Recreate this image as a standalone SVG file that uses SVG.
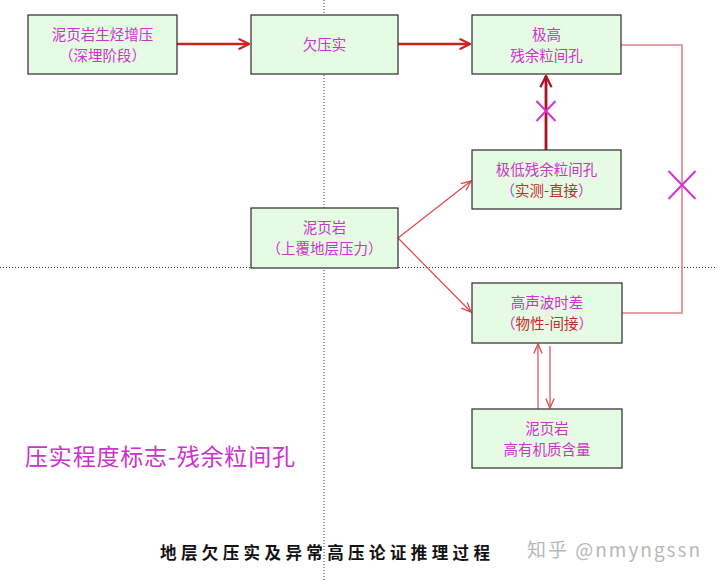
<svg xmlns="http://www.w3.org/2000/svg" width="717" height="581" viewBox="0 0 717 581">
<style>
.box rect{fill:#e6fbe3;stroke:#2a2a2a;stroke-width:1.2}
.t{font-family:"Noto Sans CJK SC","Noto Sans",sans-serif;font-size:14.5px;fill:#cc33cc;text-anchor:middle}
.r{fill:#c42a30}
.thin{stroke:#e04848;stroke-width:1.2;fill:none}
.thick{stroke:#cc2222;stroke-width:2.6;fill:none}
.xm{stroke:#d633d6;stroke-width:2;fill:none}
.dot{stroke:#333;stroke-width:1;stroke-dasharray:1 2;fill:none}
</style>
<defs>
<marker id="aThick" viewBox="0 0 10 10" refX="9" refY="5" markerWidth="5" markerHeight="5" orient="auto" markerUnits="strokeWidth">
<path d="M1,1 L9,5 L1,9" fill="none" stroke="#cc2222" stroke-width="1.6"/>
</marker>
<marker id="aDark" viewBox="0 0 10 10" refX="9" refY="5" markerWidth="5" markerHeight="5" orient="auto" markerUnits="strokeWidth">
<path d="M1,1 L9,5 L1,9" fill="none" stroke="#a81424" stroke-width="1.6"/>
</marker>
<marker id="aThin" viewBox="0 0 10 10" refX="9" refY="5" markerWidth="10" markerHeight="10" orient="auto" markerUnits="strokeWidth">
<path d="M1,1.5 L9,5 L1,8.5" fill="none" stroke="#e04848" stroke-width="1.1"/>
</marker>
</defs>
<rect width="717" height="581" fill="#ffffff"/>
<g id="guides">
<line class="dot" x1="324" y1="0" x2="324" y2="581"/>
<line class="dot" x1="0" y1="267.5" x2="717" y2="267.5"/>
</g>
<g id="connectors">
<line class="thick" x1="177" y1="44" x2="249" y2="44" marker-end="url(#aThick)"/>
<line class="thick" x1="398" y1="44" x2="470" y2="44" marker-end="url(#aThick)"/>
<line x1="546" y1="150" x2="546" y2="76" stroke="#a81424" stroke-width="2.8" marker-end="url(#aDark)"/>
<path d="M536.5,101 L555.5,121 M555.5,101 L536.5,121" class="xm"/>
<path d="M621,45 H682 V313 H622" fill="none" stroke="#d8848c" stroke-width="1.6"/>
<path d="M668.5,171 L695.5,199 M695.5,171 L668.5,199" class="xm"/>
<line class="thin" x1="398" y1="238" x2="471" y2="181" marker-end="url(#aThin)"/>
<line class="thin" x1="398" y1="238" x2="471" y2="312" marker-end="url(#aThin)"/>
<line class="thin" x1="538" y1="409" x2="538" y2="344" marker-end="url(#aThin)"/>
<line class="thin" x1="550" y1="346" x2="550" y2="408" marker-end="url(#aThin)"/>
</g>
<g id="n1" class="box"><rect x="28" y="15" width="149" height="59"/>
<text class="t" x="102.5" y="39.5">泥页岩生烃增压</text>
<text class="t" x="102.5" y="60.5">（深埋阶段）</text></g>
<g id="n2" class="box"><rect x="251" y="15" width="147" height="59"/>
<text class="t" x="324.5" y="50">欠压实</text></g>
<g id="n3" class="box"><rect x="472" y="15" width="149" height="59"/>
<text class="t" x="546.5" y="39.5">极高</text>
<text class="t" x="546.5" y="60.5">残余粒间孔</text></g>
<g id="n4" class="box"><rect x="472" y="150" width="149" height="59"/>
<text class="t" x="546.5" y="174.5">极低残余粒间孔</text>
<text class="t" x="546.5" y="195.5">（<tspan class="r">实测-直接</tspan>）</text></g>
<g id="n5" class="box"><rect x="251" y="208" width="147" height="60"/>
<text class="t" x="324.5" y="232.5">泥页岩</text>
<text class="t" x="324.5" y="253.5">（上覆地层压力）</text></g>
<g id="n6" class="box"><rect x="472" y="283" width="150" height="60"/>
<text class="t" x="547" y="307.5">高声波时差</text>
<text class="t" x="547" y="328.5">（<tspan class="r">物性-间接</tspan>）</text></g>
<g id="n7" class="box"><rect x="472" y="409" width="150" height="59"/>
<text class="t" x="547" y="433.5">泥页岩</text>
<text class="t" x="547" y="454.5">高有机质含量</text></g>
<g id="labels">
<text x="25" y="465" font-family="Noto Sans CJK SC,sans-serif" font-size="23" fill="#cc33cc" textLength="270">压实程度标志-残余粒间孔</text>
<text x="160" y="559" font-family="Noto Sans CJK SC,sans-serif" font-size="16.5" font-weight="bold" fill="#111" textLength="330">地层欠压实及异常高压论证推理过程</text>
<text x="527" y="557" font-family="Noto Sans CJK SC,sans-serif" font-size="19" fill="#b8b8b8" textLength="173">知乎 @nmyngssn</text>
</g>
</svg>
